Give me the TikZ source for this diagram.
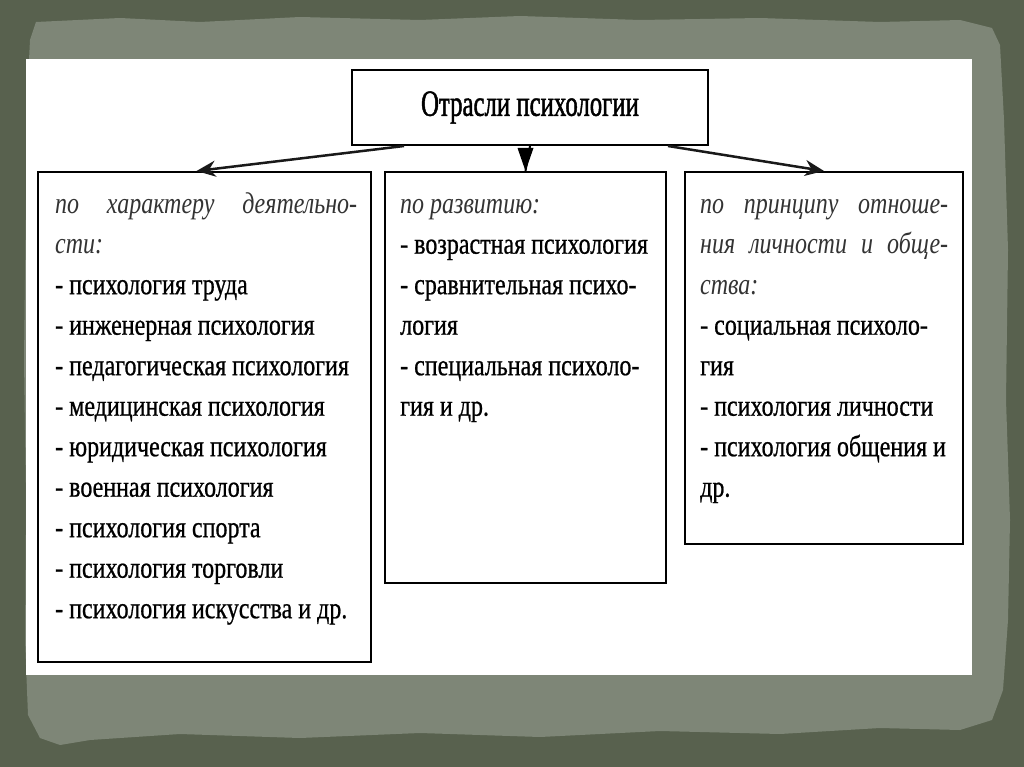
\documentclass[tikz,border=0pt]{standalone}
\usepackage{fontspec}
\setmainfont{Liberation Serif}
\newfontfamily\bodyfont[FakeStretch=0.8,FakeBold=0.7]{Liberation Serif}
\newfontfamily\itbody[FakeStretch=0.8]{Liberation Serif Italic}
\newfontfamily\titlefont[FakeStretch=0.67,FakeBold=1.2]{Liberation Serif}
\usetikzlibrary{arrows.meta,calc}
\definecolor{bgc}{RGB}{88,97,78}
\definecolor{paperc}{RGB}{126,134,119}
\tikzset{
  box/.style={draw=black, line width=2pt, fill=white, inner sep=0pt},
  txt/.style={anchor=north west, inner sep=0pt, align=flush left,
    font=\bodyfont\fontsize{30}{40.5}\selectfont, text=black},
  arr/.style={draw=black!90, line width=2.5pt, -{Stealth[length=19pt,width=16pt]}},
  downline/.style={draw=black, line width=2pt}
}
\newcommand{\itl}[1]{{\itbody\color{black!80}#1}}
\begin{document}
\begin{tikzpicture}[x=1pt,y=-1pt]
\useasboundingbox (0,0) rectangle (1024,767);
\fill[bgc] (0,0) rectangle (1024,767);
\fill[paperc] (36,22) -- (120,18) -- (200,22) -- (300,17) -- (420,20) -- (520,16) -- (640,20) -- (760,18) -- (880,22) -- (960,20) -- (992,28) -- (1000,45) -- (1004,120) -- (1008,250) -- (1006,400) -- (1010,520) -- (1008,620) -- (1003,690) -- (992,720) -- (960,730) -- (880,728) -- (780,734) -- (660,731) -- (540,737) -- (420,733) -- (300,738) -- (180,734) -- (90,740) -- (60,745) -- (40,738) -- (28,715) -- (25,640) -- (26,500) -- (24,360) -- (26,200) -- (27,100) -- (30,40) -- cycle;
\fill[white] (26,59) rectangle (972,675);

\node[box, minimum width=356pt, minimum height=75pt,
  font=\titlefont\fontsize{37}{40}\selectfont] (T) at (530,107.5) {\raisebox{3pt}{Отрасли психологии}};

\node[box, minimum width=333pt, minimum height=490pt] (L) at (204.5,417) {};
\node[box, minimum width=281pt, minimum height=411pt] (M) at (525.5,377.5) {};
\node[box, minimum width=278pt, minimum height=372pt] (R) at (824,358) {};

\node[txt, text width=302pt] (Lt) at (55,184.65) {%
\strut\makebox[302pt][s]{\itl{по характеру деятельно-}}\\
\strut\itl{сти:}\\
\strut- психология труда\\
\strut- инженерная психология\\
\strut- педагогическая психология\\
\strut- медицинская психология\\
\strut- юридическая психология\\
\strut- военная психология\\
\strut- психология спорта\\
\strut- психология торговли\\
\strut- психология искусства и др.};

\node[txt, text width=262pt] (Mt) at (400,184.65) {%
\strut\itl{по развитию:}\\
\strut- возрастная психология\\
\strut- сравнительная психо-\\
\strut логия\\
\strut- специальная психоло-\\
\strut гия и др.};

\node[txt, text width=248pt] (Rt) at (700,184.65) {%
\strut\makebox[248pt][s]{\itl{по принципу отноше-}}\\
\strut\makebox[248pt][s]{\itl{ния личности и обще-}}\\
\strut\itl{ства:}\\
\strut- социальная психоло-\\
\strut гия\\
\strut- психология личности\\
\strut- психология общения и\\
\strut др.};

\coordinate (a1) at ($(T.south west)+(53,0)$);
\coordinate (a3) at ($(T.south east)+(-41,0)$);
\coordinate (e1) at ($(L.north)+(-8,0)$);
\draw[arr] (a1) -- (e1);
\draw[downline] (T.south) -- (M.north);
\fill[black] (M.north) -- ++(-8,-23) -- ++(16,0) -- cycle;
\draw[arr] (a3) -- (R.north);
\end{tikzpicture}
\end{document}
